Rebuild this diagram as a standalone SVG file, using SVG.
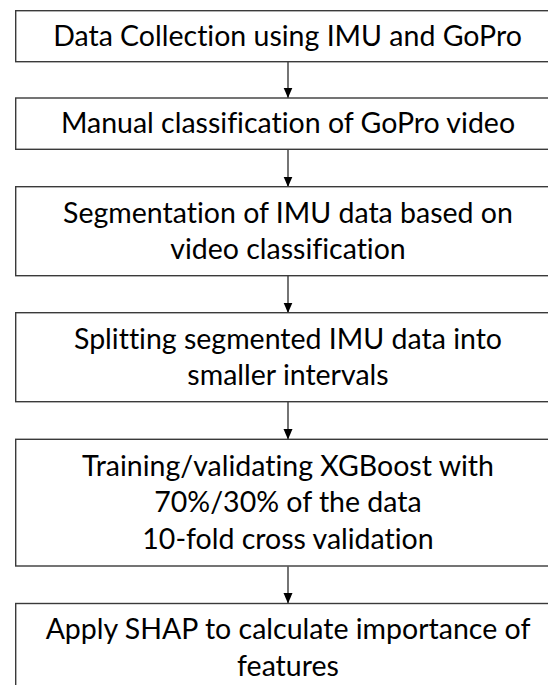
<svg xmlns="http://www.w3.org/2000/svg" width="548" height="685" viewBox="0 0 548 685">
<style>
.box{fill:#ffffff;stroke:#3a3a3a;stroke-width:1.4}
.lbl{font-family:Lato,"Open Sans","Liberation Sans",sans-serif;font-size:28.5px;fill:#000000;text-anchor:middle;font-variant-ligatures:none;font-feature-settings:"liga" 0}
.conn{stroke:#2a2a2a;stroke-width:1.3;fill:none;marker-end:url(#ah)}
</style>
<defs>
<marker id="ah" markerUnits="userSpaceOnUse" markerWidth="11" markerHeight="10" refX="10.5" refY="4.5" orient="auto" viewBox="0 0 11 9">
<path d="M0,0 L10.5,4.5 L0,9 Z" fill="#000000"/>
</marker>
</defs>
<rect width="548" height="685" fill="#ffffff"/>
<g id="connectors">
<line class="conn" x1="288" y1="62" x2="288" y2="98"/>
<line class="conn" x1="288" y1="149.5" x2="288" y2="187"/>
<line class="conn" x1="288" y1="276" x2="288" y2="313"/>
<line class="conn" x1="288" y1="402" x2="288" y2="439.5"/>
<line class="conn" x1="288" y1="566.5" x2="288" y2="603.5"/>
</g>
<g id="n1">
<rect class="box" x="15.7" y="10.7" width="545" height="51"/>
<text class="lbl" x="287.5" y="46">Data Collection using IMU and GoPro</text>
</g>
<g id="n2">
<rect class="box" x="15.7" y="98" width="545" height="51.3"/>
<text class="lbl" x="288" y="133">Manual classification of GoPro video</text>
</g>
<g id="n3">
<rect class="box" x="15.7" y="186.7" width="545" height="89"/>
<text class="lbl" x="288" y="222.5">Segmentation of IMU data based on</text>
<text class="lbl" x="288" y="259.1">video classification</text>
</g>
<g id="n4">
<rect class="box" x="15.7" y="312.7" width="545" height="89"/>
<text class="lbl" x="288" y="348.5">Splitting segmented IMU data into</text>
<text class="lbl" x="288" y="385.1">smaller intervals</text>
</g>
<g id="n5">
<rect class="box" x="15.7" y="439.3" width="545" height="126.7"/>
<text class="lbl" x="288" y="475.5">Training/validating XGBoost with</text>
<text class="lbl" x="288" y="512.2">70%/30% of the data</text>
<text class="lbl" x="288" y="548.8">10-fold cross validation</text>
</g>
<g id="n6">
<rect class="box" x="15.7" y="603.5" width="545" height="100"/>
<text class="lbl" x="288" y="639">Apply SHAP to calculate importance of</text>
<text class="lbl" x="288" y="675.6">features</text>
</g>
</svg>
